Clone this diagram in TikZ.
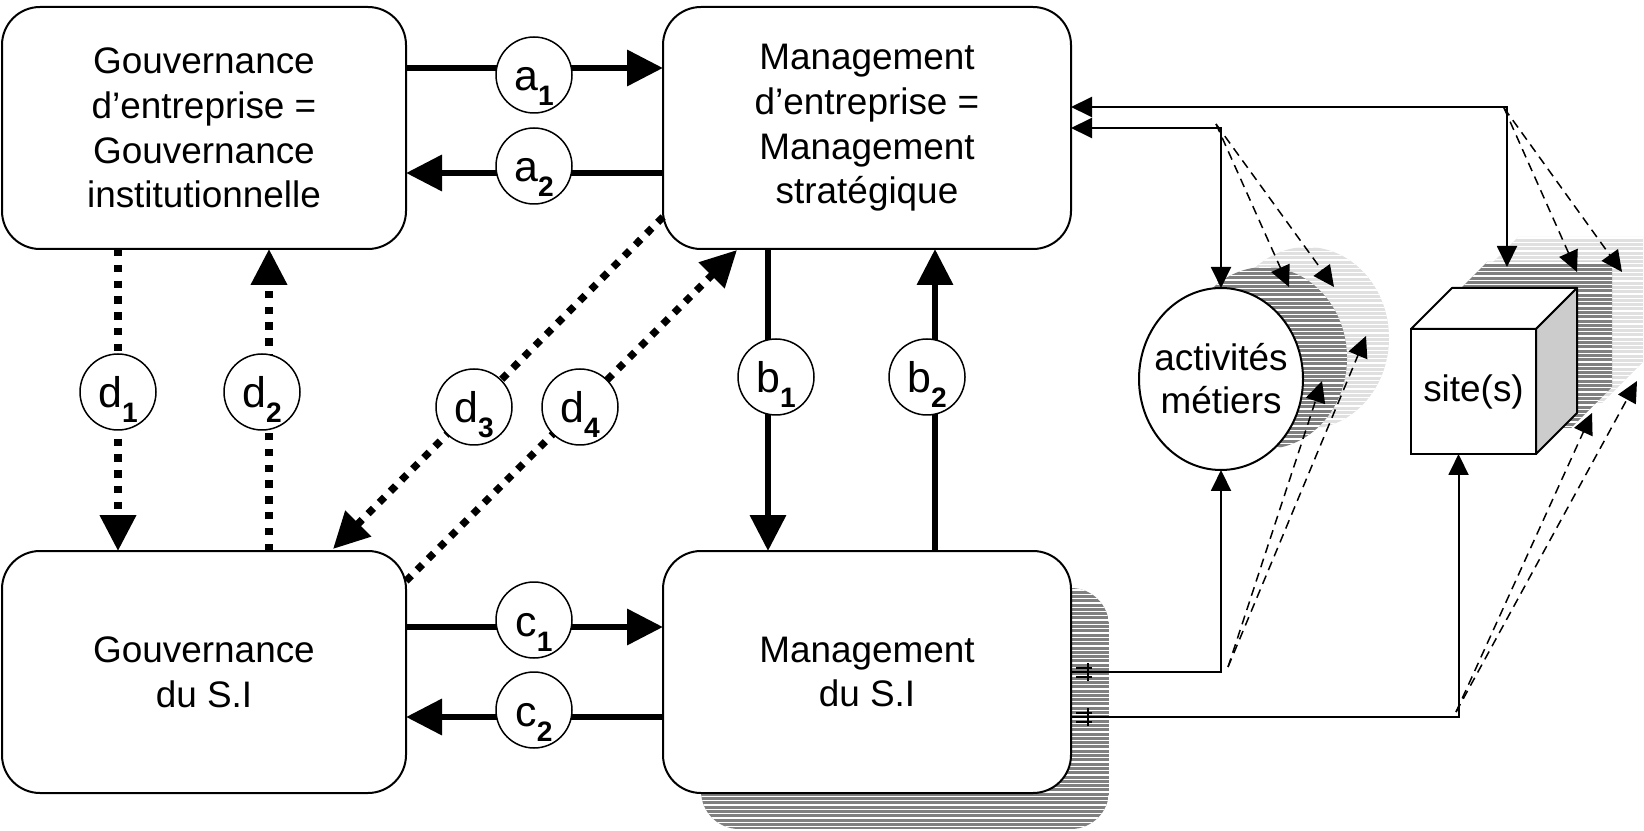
\documentclass[tikz,border=0pt]{standalone}
\usepackage{fontspec}
\setmainfont{Liberation Sans}
\usetikzlibrary{arrows.meta,calc,shapes.geometric}

\definecolor{shadedark}{RGB}{128,128,128}
\definecolor{shadelight}{RGB}{224,224,224}
\definecolor{cubeside}{RGB}{204,204,204}

% letter with a bold lowered index
\newcommand{\lbl}[2]{#1\raisebox{-1.5mm}{\fontsize{8pt}{8pt}\selectfont\bfseries #2}}

\tikzset{
  box/.style={draw, line width=0.2mm, rounded corners=3.8mm, fill=white, outer sep=0pt,
    inner sep=0pt, align=center, font=\fontsize{10.5pt}{12.7pt}\selectfont},
  tag/.style={draw, circle, line width=0.15mm, fill=white, minimum size=7.6mm, inner sep=0pt,
    font=\fontsize{12.2pt}{14pt}\selectfont, text height=4.0mm, text depth=0.8mm},
  heavy/.style={line width=0.67mm, -{Triangle[length=3.6mm,width=3.5mm]}},
  dotline/.style={line width=0.73mm, dash pattern=on 0.75mm off 0.83mm,
    -{Triangle[length=3.6mm,width=3.5mm]}},
  link/.style={line width=0.2mm},
  tip/.style={-{Triangle[length=2.1mm,width=2.0mm]}},
  dashlink/.style={line width=0.15mm, dash pattern=on 0.9mm off 0.6mm,
    -{Triangle[length=2.1mm,width=2.0mm]}},
  stripe/.style={white, line width=0.13mm},
}

\begin{document}
\begin{tikzpicture}[x=0.1mm, y=-0.1mm]
\useasboundingbox (0,0) rectangle (1644,831);

% ---- striped shadows ----
% shadow of "Management du S.I"
\begin{scope}
  \clip[rounded corners=3.8mm] (701,588) rectangle (1109,829);
  \fill[shadedark] (701,588) rectangle (1109,829);
  \foreach \k in {0,...,56} \draw[stripe] (701,590+\k*4.3) -- (1109,590+\k*4.3);
\end{scope}

% shadows of the ellipse
\begin{scope}
  \clip (1307,338) ellipse [x radius=82, y radius=91];
  \fill[shadelight] (1220,240) rectangle (1400,440);
  \foreach \k in {0,...,46} \draw[stripe] (1220,247+\k*4.3) -- (1400,247+\k*4.3);
\end{scope}
\begin{scope}
  \clip (1265,358) ellipse [x radius=82, y radius=91];
  \fill[shadedark] (1180,260) rectangle (1360,460);
  \foreach \k in {0,...,46} \draw[stripe] (1180,267+\k*4.3) -- (1360,267+\k*4.3);
\end{scope}

% shadows of the cube
\begin{scope}[shift={(66,-51)}]
  \clip (1411,329) -- (1452,288) -- (1577,288) -- (1577,413) -- (1536,454) -- (1411,454) -- cycle;
  \fill[shadelight] (1400,280) rectangle (1590,460);
  \foreach \k in {0,...,42} \draw[stripe] (1400,289+\k*4.3) -- (1590,289+\k*4.3);
\end{scope}
\begin{scope}[shift={(35,-26)}]
  \clip (1411,329) -- (1452,288) -- (1577,288) -- (1577,413) -- (1536,454) -- (1411,454) -- cycle;
  \fill[shadedark] (1400,280) rectangle (1590,460);
  \foreach \k in {0,...,42} \draw[stripe] (1400,289+\k*4.3) -- (1590,289+\k*4.3);
\end{scope}

% ---- main blocks ----
\node[box, minimum width=40.4mm, minimum height=24.2mm] (GE) at (204,128)
  {Gouvernance\\d’entreprise =\\Gouvernance\\institutionnelle};
\node[box, minimum width=40.8mm, minimum height=24.2mm] (ME) at (867,128)
  {Management\\d’entreprise =\\Management\\stratégique};
\node[box, minimum width=40.4mm, minimum height=24.2mm] (GS) at (204,672)
  {Gouvernance\\du S.I};
\node[box, minimum width=40.8mm, minimum height=24.2mm] (MS) at (867,672)
  {Management\\du S.I};

% business activities
\node[ellipse, draw, line width=0.2mm, fill=white, minimum width=16.4mm, minimum height=18.2mm,
  inner sep=0pt, outer sep=0pt] (act) at (1221,379) {};
\node[align=center, inner sep=0pt, font=\fontsize{10.5pt}{12.2pt}\selectfont]
  (actname) at (act.center) {activités\\métiers};

% site cube
\node[draw, line width=0.2mm, fill=white, minimum width=12.5mm, minimum height=12.5mm,
  inner sep=0pt, outer sep=0pt, font=\fontsize{10.5pt}{12.7pt}\selectfont]
  (site) at (1473.5,391.5) {site(s)};
\draw[line width=0.2mm, fill=white, line join=round]
  (site.north west) -- ++(41,-41) -- ++(125,0) -- (site.north east) -- cycle;
\draw[line width=0.2mm, fill=cubeside, line join=round]
  (site.north east) -- ++(41,-41) -- ++(0,125) -- (site.south east) -- cycle;

% ---- heavy flows ----
\draw[heavy] ($(GE.north east)+(0,61)$) -- ($(ME.north west)+(0,61)$);
\draw[heavy] ($(ME.north west)+(0,166)$) -- ($(GE.north east)+(0,166)$);
\draw[heavy] ($(GS.north east)+(0,76)$) -- ($(MS.north west)+(0,76)$);
\draw[heavy] ($(MS.north west)+(0,166)$) -- ($(GS.north east)+(0,166)$);
\draw[heavy] ($(ME.south west)+(105,0)$) -- ($(MS.north west)+(105,0)$);
\draw[heavy] ($(MS.north west)+(272,0)$) -- ($(ME.south west)+(272,0)$);

\draw[dotline] ($(GE.south west)+(116,0)$) -- ($(GS.north west)+(116,0)$);
\draw[dotline] ($(GS.north west)+(267,0)$) -- ($(GE.south west)+(267,0)$);
\draw[dotline] ($(ME.south west)+(0,-32)$) -- ($(GS.north west)+(331,-2)$);
\draw[dotline] ($(GS.north east)+(0,30)$) -- ($(ME.south west)+(74,1)$);

% ---- flow labels ----
\node[tag] (a1) at (534,75)  {\lbl{a}{1}};
\node[tag] (a2) at (534,166) {\lbl{a}{2}};
\node[tag] (c1) at (534,620) {\lbl{c}{1}};
\node[tag] (c2) at (534,710) {\lbl{c}{2}};
\node[tag] (b1) at (776,377) {\lbl{b}{1}};
\node[tag] (b2) at (927,377) {\lbl{b}{2}};
\node[tag] (d1) at (118,392) {\lbl{d}{1}};
\node[tag] (d2) at (262,392) {\lbl{d}{2}};
\node[tag] (d3) at (474,407) {\lbl{d}{3}};
\node[tag] (d4) at (580,407) {\lbl{d}{4}};

% ---- links to activities and sites ----
\coordinate (siteIn)  at (1507,267);
\coordinate (siteOut) at ($(site.south)+(-15,0)$);

\draw[link, {Triangle[length=2.1mm,width=2.0mm]}-{Triangle[length=2.1mm,width=2.0mm]}]
  ($(ME.north east)+(0,121)$) -| (act.north);
\draw[link, {Triangle[length=2.1mm,width=2.0mm]}-{Triangle[length=2.1mm,width=2.0mm]}]
  ($(ME.north east)+(0,100)$) -| (siteIn);
\draw[link, tip] ($(MS.north east)+(0,121)$) -| (act.south);
\draw[link, tip] ($(MS.north east)+(0,166)$) -| (siteOut);

% small marks where the links leave the shadow
\draw[line width=0.15mm] (1088,663) -- (1088,681) (1076,668) -- (1092,668) (1076,677) -- (1092,677);
\draw[line width=0.15mm] (1088,708) -- (1088,726) (1076,713) -- (1092,713) (1076,722) -- (1092,722);

% fan-out junctions
\coordinate (jA) at (1216,124);
\coordinate (jB) at (1228,667);
\coordinate (jC) at (1504,108);
\coordinate (jD) at (1456,712);

\coordinate (tA1) at (1289,287);
\coordinate (tA2) at (1334,287);
\coordinate (tB1) at (1322,381);
\coordinate (tB2) at (1366,336);
\coordinate (tC1) at (1577,272);
\coordinate (tC2) at (1622,272);
\coordinate (tD1) at (1592,413);
\coordinate (tD2) at (1637,381);

\draw[dashlink] (jA) -- (tA1);
\draw[dashlink] (jA) -- (tA2);
\draw[dashlink] (jB) -- (tB1);
\draw[dashlink] (jB) -- (tB2);
\draw[dashlink] (jC) -- (tC1);
\draw[dashlink] (jC) -- (tC2);
\draw[dashlink] (jD) -- (tD1);
\draw[dashlink] (jD) -- (tD2);

\end{tikzpicture}
\end{document}
